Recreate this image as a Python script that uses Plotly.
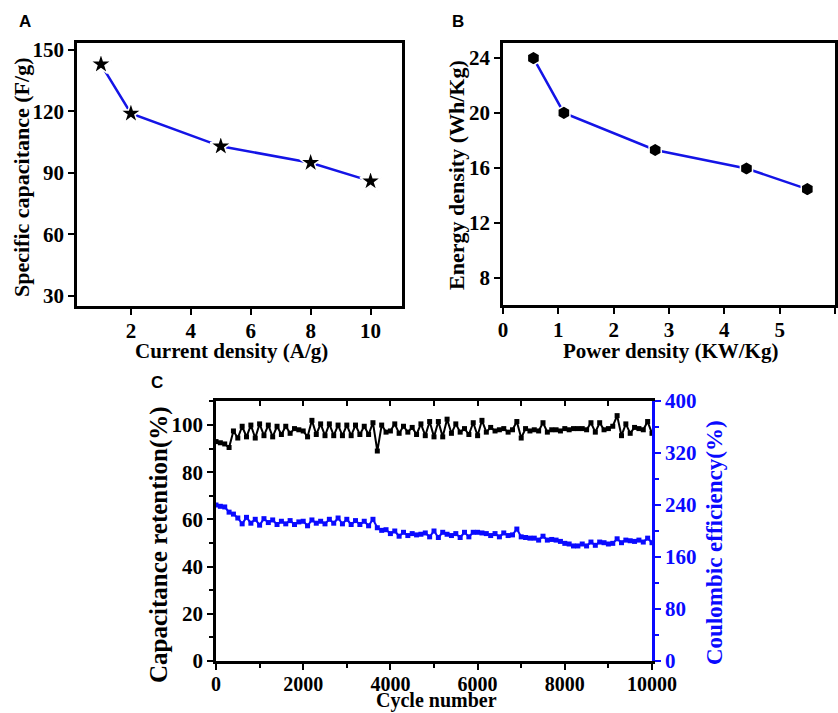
import plotly.graph_objects as go

# ---------------- data ----------------
cur_density = [1, 2, 5, 8, 10]
spec_cap = [143, 119, 103, 95, 86]
a_xticks = [2, 4, 6, 8, 10]
a_yticks = [30, 60, 90, 120, 150]

power_density = [0.55, 1.1, 2.75, 4.4, 5.5]
energy_density = [24.0, 20.0, 17.3, 15.95, 14.45]
b_xticks = [0, 1, 2, 3, 4, 5, 6]
b_yticks = [8, 12, 16, 20, 24]

cycles = list(range(0, 10001, 100))
retention = [
    93, 92.5, 92, 90.5, 97.5, 94.5, 99.5, 95, 100, 94.5,
    100.5, 95.5, 100, 95, 99.5, 96, 99.5, 96.5, 98.5, 98,
    97.5, 95, 102, 96, 100.5, 95.5, 100.5, 95.5, 100, 95.5,
    100, 95.5, 100, 96, 99.5, 96, 101, 89, 100, 97,
    97.5, 100.5, 96.5, 99.5, 97, 99, 96, 100.5, 95.5, 101.5,
    95, 101.5, 95, 102.5, 96.5, 100.5, 97, 98.5, 96, 101,
    95.5, 102, 97, 99, 97.5, 98, 98.5, 97, 98, 101.5,
    94.5, 98.5, 97.5, 98, 97.5, 101, 97, 98, 98, 97.5,
    98.5, 98, 98.5, 98.5, 98.5, 98, 101, 97, 101, 98,
    98.5, 99.5, 104, 95.5, 100.5, 96.5, 99, 98.5, 98, 101.5,
    96.5,
]
coulombic = [
    240, 238, 237, 229, 226, 220, 211, 221, 212, 218,
    209, 219, 213, 217, 210, 215, 211, 216, 210, 214,
    215, 208, 217, 212, 215, 211, 218, 212, 220, 211,
    218, 210, 216, 210, 215, 208, 218, 205, 201, 202,
    196, 200, 192, 198, 193, 196, 194, 195, 197, 191,
    200, 190, 198, 195, 193, 196, 190, 198, 191, 198,
    198, 197, 196, 193, 196, 191, 197, 193, 194, 203,
    191, 190, 189, 189, 186, 192, 186, 187, 186, 184,
    181, 180, 177, 177, 180, 177, 183, 178, 183, 182,
    180, 181, 188, 182, 186, 185, 184, 186, 183, 189,
    182,
]
c_xticks = [0, 2000, 4000, 6000, 8000, 10000]
c_yticks = [0, 20, 40, 60, 80, 100]
c_y2ticks = [0, 80, 160, 240, 320, 400]

SERIF = "Liberation Serif"
SANS = "Liberation Sans"
BLUE = "#0a0aff"
LINEBLUE = "#1414e6"
W, H = 838, 713


def px(x):
    return x / W


def py(y):
    return 1 - y / H


def bold(vals):
    return ["<b>%s</b>" % v for v in vals]


fig = go.Figure()

# Panel A
fig.add_trace(go.Scatter(
    x=cur_density, y=spec_cap, mode="lines+markers",
    line=dict(color=LINEBLUE, width=2.5),
    marker=dict(symbol="star", size=16, color="black", line=dict(color="white", width=1.5)),
    xaxis="x", yaxis="y", showlegend=False))

# Panel B
fig.add_trace(go.Scatter(
    x=power_density, y=energy_density, mode="lines+markers",
    line=dict(color=LINEBLUE, width=2.5),
    marker=dict(symbol="hexagon", size=14, color="black", line=dict(color="white", width=1.5)),
    xaxis="x2", yaxis="y2", showlegend=False))

# Panel C
fig.add_trace(go.Scatter(
    x=cycles, y=retention, mode="lines+markers",
    line=dict(color="black", width=2),
    marker=dict(symbol="square", size=5, color="black"),
    xaxis="x3", yaxis="y3", showlegend=False))
fig.add_trace(go.Scatter(
    x=cycles, y=coulombic, mode="lines+markers",
    line=dict(color=BLUE, width=2),
    marker=dict(symbol="square", size=5, color=BLUE),
    xaxis="x3", yaxis="y4", showlegend=False))
# invisible trace to hold the top tick axis
fig.add_trace(go.Scatter(
    x=[0, 10000], y=[0, 0], mode="markers", marker=dict(opacity=0),
    xaxis="x4", yaxis="y3", showlegend=False, hoverinfo="skip"))

tick_font = dict(family=SERIF, size=21, color="black")
axis_common = dict(showgrid=False, zeroline=False, showline=True, linecolor="black",
                   linewidth=2.5, ticks="outside", tickwidth=2, ticklen=6,
                   tickcolor="black", automargin=False)

fig.update_layout(
    width=W, height=H,
    margin=dict(l=0, r=0, t=0, b=0),
    paper_bgcolor="white", plot_bgcolor="white",
    xaxis=dict(domain=[px(77), px(402)], range=[0.2, 11.05],
               tickvals=a_xticks, ticktext=bold(a_xticks), tickfont=tick_font,
               ticklabelstandoff=-2,
               mirror=True, anchor="y", **axis_common),
    yaxis=dict(domain=[py(306), py(43)], range=[25.1, 153.4],
               tickvals=a_yticks, ticktext=bold(a_yticks), tickfont=tick_font,
               mirror=True, anchor="x", **axis_common),
    xaxis2=dict(domain=[px(503), px(835)], range=[0, 6],
                tickvals=b_xticks, ticktext=bold(b_xticks), tickfont=tick_font,
                ticklabelstandoff=-2,
                mirror=True, anchor="y2", **axis_common),
    yaxis2=dict(domain=[py(305), py(43)], range=[6.0, 25.1],
                tickvals=b_yticks, ticktext=bold(b_yticks), tickfont=tick_font,
                mirror=True, anchor="x2", **axis_common),
    xaxis3=dict(domain=[px(216), px(652)], range=[0, 10000],
                tickvals=c_xticks, ticktext=bold(c_xticks),
                tickfont=dict(family=SERIF, size=20, color="black"),
                ticklabelstandoff=-3,
                mirror=False, anchor="y3",
                minor=dict(dtick=1000, ticks="outside", ticklen=4, tickwidth=2, tickcolor="black"),
                **axis_common),
    xaxis4=dict(domain=[px(216), px(652)], range=[0, 10000], overlaying="x3", side="top",
                anchor="y3", showgrid=False, zeroline=False, showline=True, linecolor="black",
                linewidth=2.5, ticks="inside", dtick=1000, ticklen=5, tickwidth=2,
                tickcolor="black", showticklabels=False, automargin=False),
    yaxis3=dict(domain=[py(661), py(401)], range=[0, 110.2],
                tickvals=c_yticks, ticktext=bold(c_yticks), tickfont=tick_font,
                mirror=False, anchor="x3",
                minor=dict(dtick=10, ticks="outside", ticklen=4, tickwidth=2, tickcolor="black"),
                **axis_common),
    yaxis4=dict(domain=[py(661), py(401)], range=[0, 400], overlaying="y3",
                tickvals=c_y2ticks, ticktext=bold(c_y2ticks),
                side="right", anchor="x3", showgrid=False, zeroline=False, showline=True,
                linecolor=BLUE, linewidth=2.5, ticks="outside", tickwidth=2, ticklen=6,
                tickcolor=BLUE, automargin=False,
                minor=dict(dtick=40, ticks="outside", ticklen=4, tickwidth=2, tickcolor=BLUE),
                tickfont=dict(family=SERIF, size=21, color=BLUE)),
)


def ann(text, x, y, size, color="black", angle=0, family=SERIF, yanchor="middle"):
    fig.add_annotation(text=text, x=px(x), y=py(y), xref="paper", yref="paper",
                       showarrow=False, textangle=angle, xanchor="center", yanchor=yanchor,
                       borderpad=0, font=dict(family=family, size=size, color=color))


ann("<b>A</b>", 25, 22, 17, family=SANS)
ann("<b>B</b>", 458, 22, 17, family=SANS)
ann("<b>C</b>", 157, 383, 17, family=SANS)

ann("<b>Specific capacitance (F/g)</b>", 21, 177, 22, angle=-90)
ann("<b>Current density (A/g)</b>", 232, 338, 21, yanchor="top")
ann("<b>Energy density (Wh/Kg)</b>", 457, 175, 22, angle=-90)
ann("<b>Power density (KW/Kg)</b>", 670, 338, 21, yanchor="top")
ann("<b>Capacitance retention(%)</b>", 159, 545, 25, angle=-90)
ann("<b>Coulombic efficiency(%)</b>", 714, 543, 23, color=BLUE, angle=-90)
ann("<b>Cycle number</b>", 436, 713, 20, yanchor="bottom")

fig.write_html("out.html")
